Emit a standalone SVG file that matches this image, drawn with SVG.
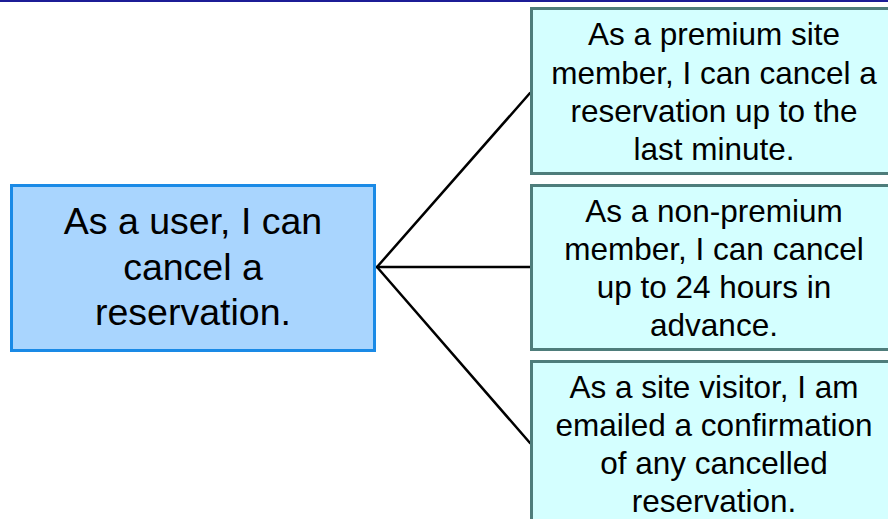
<svg xmlns="http://www.w3.org/2000/svg" width="888" height="519" viewBox="0 0 888 519">
  <style>
    .root rect { fill: #a9d5fe; stroke: #1a8ae6; stroke-width: 3; }
    .leaf rect { fill: #d4ffff; stroke: #4e7d7b; stroke-width: 3; }
    text { font-family: "Liberation Sans", Arial, sans-serif; fill: #000; text-anchor: middle; }
    .root text { font-size: 37.5px; }
    .leaf text { font-size: 31.5px; }
    .edges line { stroke: #000; stroke-width: 2.5; stroke-linecap: round; }
  </style>

  <!-- top rule -->
  <rect x="0" y="0" width="888" height="2" fill="#1c1c96"/>

  <g class="edges">
    <line x1="377" y1="267" x2="530" y2="93"/>
    <line x1="377" y1="267" x2="530" y2="267"/>
    <line x1="377" y1="267" x2="530" y2="443"/>
  </g>

  <g id="user-story" class="root">
    <rect x="11.5" y="185.5" width="363" height="165"/>
    <text x="193" y="234">As a user, I can</text>
    <text x="193" y="279.5">cancel a</text>
    <text x="193" y="325">reservation.</text>
  </g>

  <g id="premium-member" class="leaf">
    <rect x="531.5" y="8.5" width="380" height="165"/>
    <text x="714" y="45">As a premium site</text>
    <text x="714" y="83.5">member, I can cancel a</text>
    <text x="714" y="122">reservation up to the</text>
    <text x="714" y="160">last minute.</text>
  </g>

  <g id="non-premium-member" class="leaf">
    <rect x="531.5" y="185.5" width="380" height="164"/>
    <text x="714" y="222">As a non-premium</text>
    <text x="714" y="260">member, I can cancel</text>
    <text x="714" y="298">up to 24 hours in</text>
    <text x="714" y="335.5">advance.</text>
  </g>

  <g id="site-visitor" class="leaf">
    <rect x="531.5" y="361.5" width="380" height="180"/>
    <text x="714" y="397.5">As a site visitor, I am</text>
    <text x="714" y="435.5">emailed a confirmation</text>
    <text x="714" y="473.5">of any cancelled</text>
    <text x="714" y="512">reservation.</text>
  </g>
</svg>
